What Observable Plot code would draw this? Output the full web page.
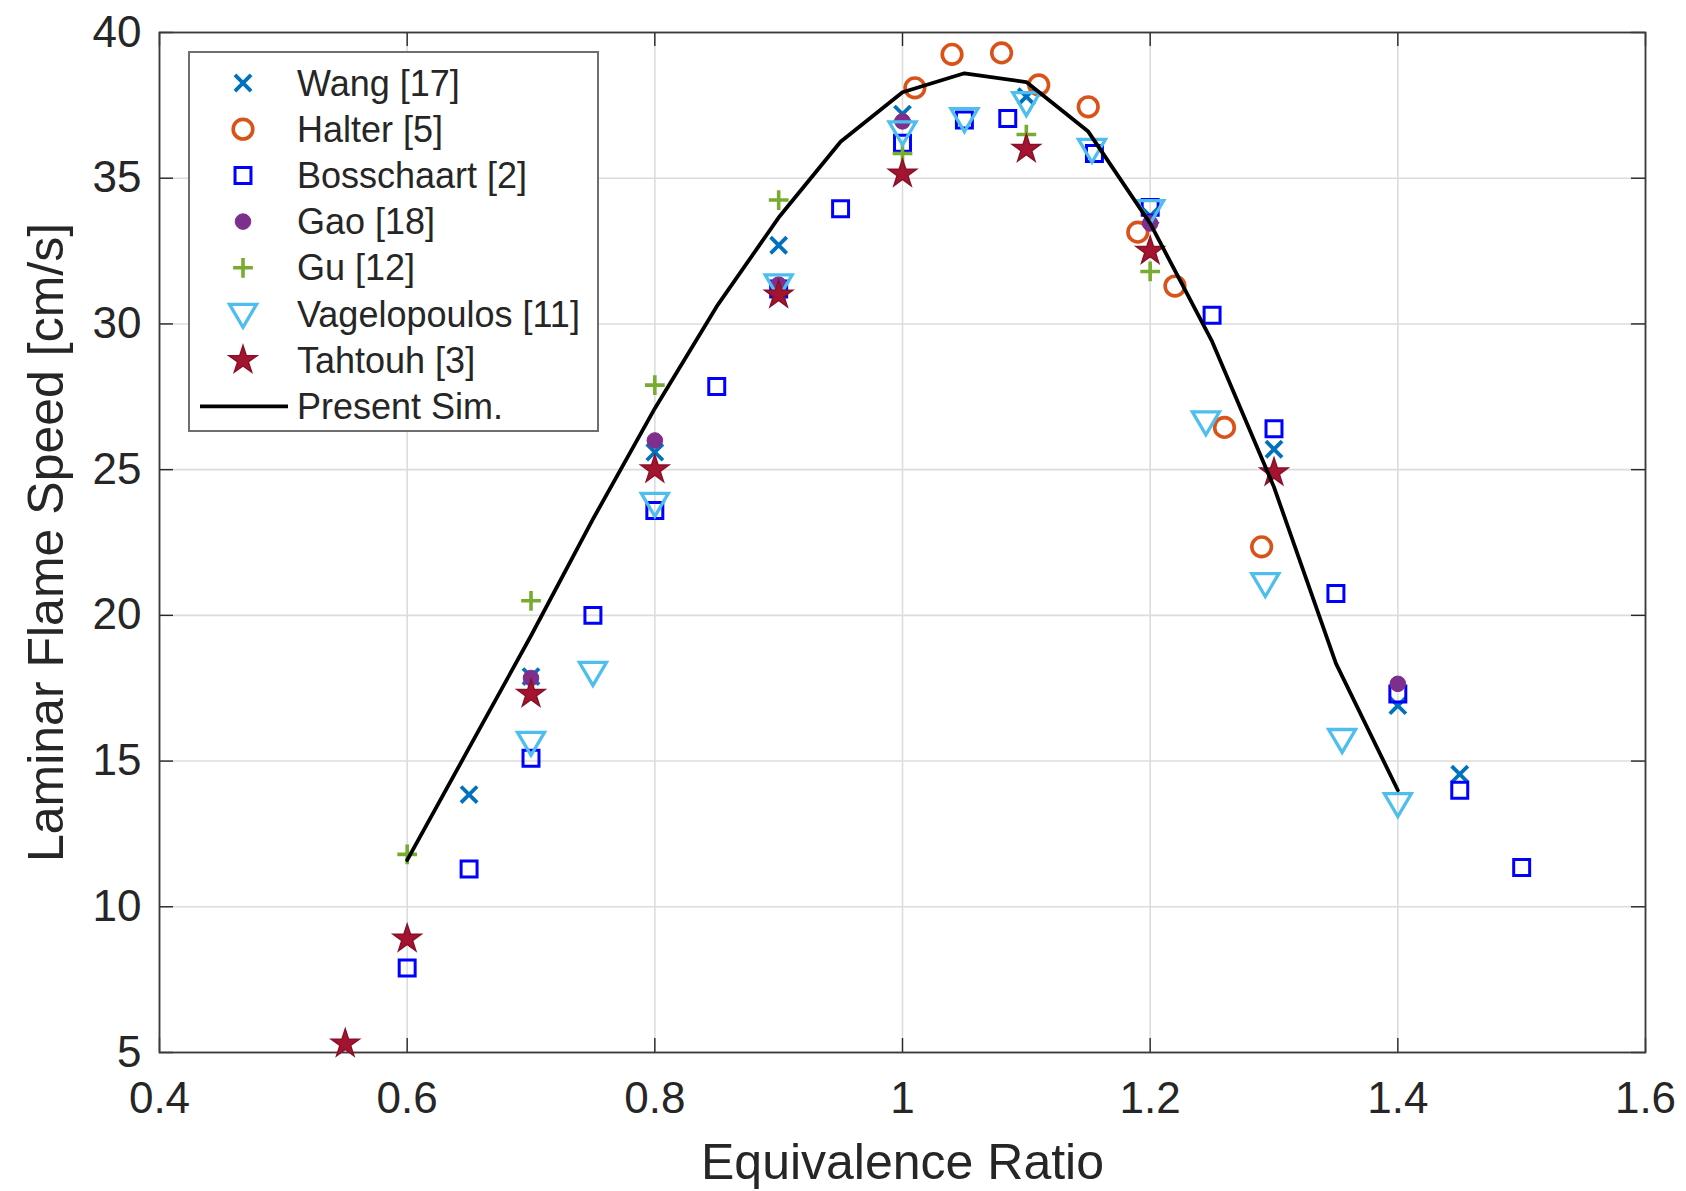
<!DOCTYPE html>
<html><head><meta charset="utf-8">
<script src="https://cdn.jsdelivr.net/npm/d3@7"></script>
<script src="https://cdn.jsdelivr.net/npm/@observablehq/plot@0.6"></script>
<style>html,body{margin:0;padding:0;background:#fff}</style>
</head><body><div id="chart"></div>
<script>
// ---- tick labels ----
const xTicks = [0.4, 0.6, 0.8, 1, 1.2, 1.4, 1.6];
const yTicks = [5, 10, 15, 20, 25, 30, 35, 40];
const xLabel = "Equivalence Ratio";
const yLabel = "Laminar Flame Speed [cm/s]";

// ---- series (equivalence ratio, laminar flame speed cm/s) ----
const wangPhi = [0.65, 0.7, 0.8, 0.9, 1.0, 1.1, 1.2, 1.3, 1.4, 1.45];
const wangSL  = [13.85, 17.9, 25.6, 32.7, 37.2, 37.8, 33.7, 25.7, 16.9, 14.55];

const halterPhi = [1.01, 1.04, 1.08, 1.11, 1.15, 1.19, 1.22, 1.26, 1.29];
const halterSL  = [38.1, 39.25, 39.3, 38.2, 37.45, 33.15, 31.3, 26.45, 22.35];

const bossPhi = [0.6, 0.65, 0.7, 0.75, 0.8, 0.85, 0.9, 0.95, 1.0, 1.05, 1.085, 1.155, 1.2, 1.25, 1.3, 1.35, 1.4, 1.45, 1.5];
const bossSL  = [7.9, 11.3, 15.1, 20.0, 23.6, 27.85, 31.2, 33.95, 36.2, 37.0, 37.05, 35.85, 34.0, 30.3, 26.4, 20.75, 17.3, 14.0, 11.35];

const gaoPhi = [0.7, 0.8, 0.9, 1.0, 1.2, 1.4];
const gaoSL  = [17.85, 26.0, 31.35, 36.95, 33.45, 17.65];

const guPhi = [0.6, 0.7, 0.8, 0.9, 1.0, 1.1, 1.2];
const guSL  = [11.8, 20.5, 27.9, 34.25, 35.85, 36.5, 31.8];

const vagPhi = [0.7, 0.75, 0.8, 0.9, 1.0, 1.05, 1.1, 1.153, 1.2, 1.245, 1.293, 1.355, 1.4];
const vagSL  = [15.65, 18.05, 23.85, 31.35, 36.6, 37.05, 37.6, 36.0, 33.9, 26.65, 21.1, 15.75, 13.55];

const tahPhi = [0.55, 0.6, 0.7, 0.8, 0.9, 1.0, 1.1, 1.2, 1.3];
const tahSL  = [5.3, 8.9, 17.3, 25.0, 31.0, 35.15, 36.0, 32.5, 24.9];

const simPhi = [0.6, 0.65, 0.7, 0.75, 0.8, 0.85, 0.9, 0.95, 1.0, 1.05, 1.1, 1.15, 1.2, 1.25, 1.3, 1.35, 1.4];
const simSL  = [11.6, 15.45, 19.3, 23.3, 27.1, 30.6, 33.65, 36.25, 37.95, 38.6, 38.3, 36.6, 33.45, 29.4, 24.4, 18.35, 14.0];

const seriesNames = ["Wang [17]", "Halter [5]", "Bosschaart [2]", "Gao [18]", "Gu [12]", "Vagelopoulos [11]", "Tahtouh [3]", "Present Sim."];

// ---- layout / style ----
const W = 1686, H = 1191;
const mL = 159, mR = 41, mT = 32, mB = 139;
const FONT = "'Liberation Sans', Arial, Helvetica, sans-serif";
const INK = "#262626";

const triDown = {
  draw(ctx, size) {
    const r = Math.sqrt(size / Math.PI);
    ctx.moveTo(-r, -0.72 * r);
    ctx.lineTo(r, -0.72 * r);
    ctx.lineTo(0, 0.98 * r);
    ctx.closePath();
  }
};

const styles = [
  {symbol: "times",  r: 7.4,  stroke: "#0072BD", fill: "none", strokeWidth: 3.8},
  {symbol: "circle", r: 9.8,  stroke: "#D95319", fill: "none", strokeWidth: 3.6},
  {symbol: "square", r: 9.0,  stroke: "#0000FF", fill: "none", strokeWidth: 3},
  {symbol: "circle", r: 7.8,  stroke: "#7E2F8E", fill: "#7E2F8E", strokeWidth: 1},
  {symbol: "plus",   r: 6.4,  stroke: "#77AC30", fill: "none", strokeWidth: 3.6},
  {symbol: triDown,  r: 13.5, stroke: "#4DBEEE", fill: "none", strokeWidth: 3.3},
  {symbol: "star",   r: 8.8,  stroke: "#8a1028", fill: "#A2142F", strokeWidth: 1.5}
];

const rows = (phi, sl) => phi.map((p, i) => ({phi: p, sl: sl[i]}));
const data = [
  rows(wangPhi, wangSL), rows(halterPhi, halterSL), rows(bossPhi, bossSL),
  rows(gaoPhi, gaoSL), rows(guPhi, guSL), rows(vagPhi, vagSL), rows(tahPhi, tahSL)
];
const sim = rows(simPhi, simSL);

const frameW = W - mL - mR, frameH = H - mT - mB;
const tickLen = 14;

const plot = Plot.plot({
  width: W, height: H,
  marginLeft: mL, marginRight: mR, marginTop: mT, marginBottom: mB,
  style: {fontFamily: FONT, background: "#fff", color: INK},
  x: {domain: [0.4, 1.6]},
  y: {domain: [5, 40]},
  marks: [
    Plot.gridX(xTicks, {stroke: "#dcdcdc", strokeOpacity: 1, strokeWidth: 1.6}),
    Plot.gridY(yTicks, {stroke: "#dcdcdc", strokeOpacity: 1, strokeWidth: 1.6}),
    // inward ticks (MATLAB style), all four sides
    Plot.tickX(xTicks, {x: d => d, insetTop: frameH - tickLen, stroke: INK, strokeWidth: 1.4}),
    Plot.tickX(xTicks, {x: d => d, insetBottom: frameH - tickLen, stroke: INK, strokeWidth: 1.4}),
    Plot.tickY(yTicks, {y: d => d, insetRight: frameW - tickLen, stroke: INK, strokeWidth: 1.4}),
    Plot.tickY(yTicks, {y: d => d, insetLeft: frameW - tickLen, stroke: INK, strokeWidth: 1.4}),
    Plot.frame({stroke: "#3a3a3a", strokeWidth: 1.8}),
    Plot.axisX(xTicks, {tickSize: 0, tickPadding: 29, fontSize: 44, fill: INK, tickFormat: d => String(d), label: null}),
    Plot.axisY(yTicks, {tickSize: 0, tickPadding: 18, fontSize: 44, fill: INK, tickFormat: d => String(d), label: null}),
    Plot.text([xLabel], {text: d => d, frameAnchor: "bottom", dy: 110, textAnchor: "middle", lineAnchor: "middle", fontSize: 50, fill: INK}),
    Plot.text([yLabel], {text: d => d, frameAnchor: "left", dx: -113, rotate: -90, textAnchor: "middle", lineAnchor: "middle", fontSize: 50, fill: INK}),
    ...data.map((d, k) => Plot.dot(d, {x: "phi", y: "sl", ...styles[k]})),
    Plot.line(sim, {x: "phi", y: "sl", stroke: "#000", strokeWidth: 3.8})
  ]
});
document.getElementById("chart").appendChild(plot);

// ---- legend (drawn into the same SVG) ----
const svg = d3.select(plot);
const lg = svg.append("g").attr("transform", "translate(189,52)");
lg.append("rect").attr("width", 409).attr("height", 379).attr("fill", "#fff")
  .attr("stroke", "#6e6e6e").attr("stroke-width", 2);
const symMap = {times: d3.symbolTimes, circle: d3.symbolCircle, square: d3.symbolSquare, plus: d3.symbolPlus, star: d3.symbolStar};
seriesNames.forEach((name, i) => {
  const cy = 31 + i * 46.2;
  if (i < styles.length) {
    const s = styles[i];
    const type = typeof s.symbol === "string" ? symMap[s.symbol] : s.symbol;
    lg.append("path")
      .attr("d", d3.symbol(type, Math.PI * s.r * s.r)())
      .attr("transform", `translate(54,${cy})`)
      .attr("fill", s.fill).attr("stroke", s.stroke).attr("stroke-width", s.strokeWidth);
  } else {
    lg.append("line").attr("x1", 11).attr("x2", 99).attr("y1", cy).attr("y2", cy)
      .attr("stroke", "#000").attr("stroke-width", 3.8);
  }
  lg.append("text").attr("x", 108).attr("y", cy).attr("dy", "0.35em")
    .attr("text-anchor", "start")
    .attr("font-family", FONT).attr("font-size", 36).attr("fill", INK).text(name);
});
</script>
</body></html>
